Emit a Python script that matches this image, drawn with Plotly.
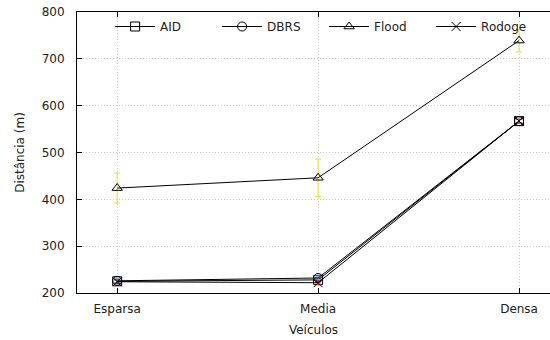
import plotly.graph_objects as go

categories = ["Esparsa", "Media", "Densa"]

aid = [225, 228, 567]
aid_err = [4, 4, 4]
dbrs = [226, 232, 567]
dbrs_err = [4, 4, 4]
flood = [424, 446, 739]
flood_err = [32, 40, 24]
rodoge = [224, 222, 567]
rodoge_err = [4, 4, 4]

y_ticks = [200, 300, 400, 500, 600, 700, 800]

series = [
    ("AID", aid, aid_err, "square-open", "#9400D3"),
    ("DBRS", dbrs, dbrs_err, "circle-open", "#56B4E9"),
    ("Flood", flood, flood_err, "triangle-up-open", "#F0E442"),
    ("Rodoge", rodoge, rodoge_err, "x-thin-open", "#E51E10"),
]

fig = go.Figure()
for name, vals, errs, sym, col in series:
    fig.add_trace(go.Scatter(
        x=categories, y=vals, name=name, mode="lines+markers",
        line=dict(color="black", width=1),
        marker=dict(symbol=sym, size=9, color="black",
                    line=dict(color="black", width=1)),
        error_y=dict(type="data", array=errs, visible=True,
                     color=col, thickness=1.2, width=3),
    ))

font = dict(family="DejaVu Sans", size=12, color="#222")

fig.update_layout(
    width=550, height=340,
    margin=dict(l=77, r=0, t=12, b=47, autoexpand=False),
    paper_bgcolor="white", plot_bgcolor="white",
    font=font,
    showlegend=True,
    legend=dict(orientation="h", x=0.07, y=1.0, xanchor="left", yanchor="top",
                bgcolor="rgba(255,255,255,0)", font=dict(family="DejaVu Sans", size=12),
                entrywidth=52, entrywidthmode="pixels", itemwidth=40, tracegroupgap=0),
    xaxis=dict(
        type="category", range=[-0.2, 2.154], automargin=False,
        showline=True, linecolor="black", linewidth=1, mirror="ticks",
        ticks="inside", ticklen=5, tickcolor="black", ticklabelstandoff=5,
        showgrid=True, gridcolor="#cccccc", griddash="1px,2px", gridwidth=1,
        title=dict(text="Veículos", standoff=10, font=font),
        zeroline=False,
    ),
    yaxis=dict(
        range=[200, 800], tickvals=y_ticks, automargin=False,
        showline=True, linecolor="black", linewidth=1, mirror=False,
        ticks="inside", ticklen=5, tickcolor="black", ticklabelstandoff=9,
        showgrid=True, gridcolor="#cccccc", griddash="1px,2px", gridwidth=1,
        title=dict(text="Distância (m)", standoff=14, font=font),
        zeroline=False,
    ),
)

fig.write_html("out.html", config={"displayModeBar": False},
               post_script="document.body.style.margin='0';")
